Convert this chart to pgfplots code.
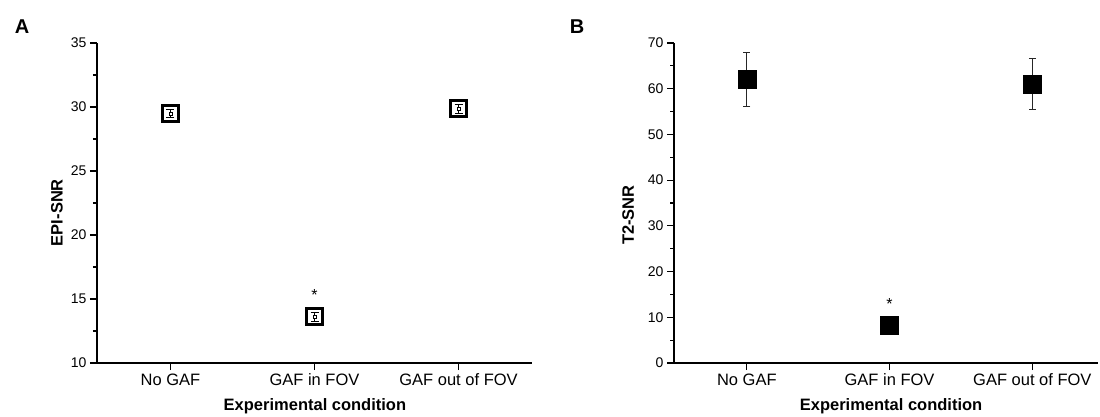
\documentclass[border=0pt]{standalone}
\usepackage{fontspec}
\setmainfont{Liberation Sans}
\usepackage{pgfplots}
\pgfplotsset{compat=1.18}

\pgfplotsset{
  snr/.style={
    scale only axis,
    height=320pt,
    axis x line=bottom,
    axis y line=left,
    axis line style={-, line width=1.2pt},
    tick align=outside,
    major tick length=7pt,
    minor tick length=4pt,
    every tick/.style={line width=1.2pt, black},
    xtick={0,1,2},
    xticklabels={No GAF, GAF in FOV, GAF out of FOV},
    minor y tick num=1,
    xmin=-0.51,
    /pgf/number format/assume math mode=true,
    x tick label style={font=\fontsize{16.5}{18}\selectfont},
    y tick label style={font=\fontsize{14}{16}\selectfont},
    xlabel={Experimental condition},
    clip=false,
  },
}

\begin{document}
\begin{tikzpicture}
\useasboundingbox (0,0) rectangle (1100pt,-416pt);

\node[font=\fontsize{20}{22}\selectfont\bfseries] at (22pt,-27pt) {A};
\node[font=\fontsize{20}{22}\selectfont\bfseries] at (577pt,-27pt) {B};

% panel A
\begin{axis}[snr,
    at={(97pt,-363pt)}, anchor=south west,
    width=435pt, xmax=2.51,
    ymin=10, ymax=35, ytick={10,15,...,35},
    ylabel={EPI-SNR},
    every axis y label/.style={at={(axis description cs:-0.092,0.47)}, rotate=90, anchor=center,
      font=\fontsize{16.5}{18}\selectfont\bfseries},
    every axis x label/.style={at={(axis description cs:0.501,-0.134)}, anchor=center,
      font=\fontsize{16.5}{18}\selectfont\bfseries},
]
\addplot[only marks, mark=square, mark size=8pt,
  mark options={line width=3pt, draw=black, fill=white}] coordinates {
  (0,29.5) (1,13.6) (2,29.85)
};
\addplot[draw=none, mark=none,
  error bars/.cd, y dir=both, y explicit,
  error bar style={draw=black, line width=0.8pt},
  error mark options={rotate=90, mark size=4pt, line width=0.8pt, draw=black}] coordinates {
  (0,29.5) +- (0,0.35)
  (1,13.6) +- (0,0.35)
  (2,29.85) +- (0,0.35)
};
% the gap in the middle of each small error bar
\addplot[only marks, mark=square*, mark size=1.3pt,
  mark options={draw=none, fill=white}] coordinates {
  (0,29.5) (1,13.6) (2,29.85)
};
\node[font=\fontsize{16}{18}\selectfont] at (axis cs:1,15.35) {*};
\end{axis}

% panel B
\begin{axis}[snr,
    at={(674pt,-363pt)}, anchor=south west,
    width=424pt, xmax=2.46,
    ymin=0, ymax=70, ytick={0,10,...,70},
    ylabel={T2-SNR},
    every axis y label/.style={at={(axis description cs:-0.108,0.4625)}, rotate=90, anchor=center,
      font=\fontsize{16.5}{18}\selectfont\bfseries},
    every axis x label/.style={at={(axis description cs:0.512,-0.134)}, anchor=center,
      font=\fontsize{16.5}{18}\selectfont\bfseries},
]
\addplot[only marks, mark=square*, mark size=9pt,
  mark options={line width=0.5pt, draw=black, fill=black},
  error bars/.cd, y dir=both, y explicit,
  error bar style={draw=black!85, line width=1pt},
  error mark options={rotate=90, mark size=3.5pt, line width=1pt, draw=black!85}] coordinates {
  (0,62) +- (0,5.9)
  (1,8.2) +- (0,1.0)
  (2,61) +- (0,5.6)
};
\node[font=\fontsize{16}{18}\selectfont] at (axis cs:1,12.9) {*};
\end{axis}
\end{tikzpicture}
\end{document}
